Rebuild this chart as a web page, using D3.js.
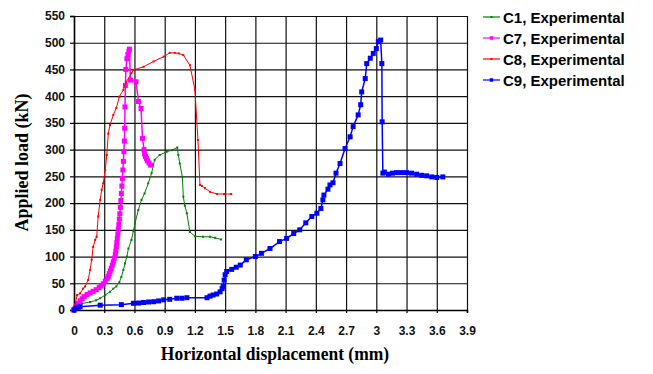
<!DOCTYPE html>
<html>
<head>
<meta charset="utf-8">
<script src="https://cdn.jsdelivr.net/npm/d3@7"></script>
<style>
  html, body { margin: 0; padding: 0; background: #fff; }
  svg { display: block; }
</style>
</head>
<body>
<svg id="chart" width="653" height="374"></svg>
<script>
// Load-displacement records (displacement in mm, load in kN)
const c1Disp = [0, 0.03, 0.08, 0.16, 0.22, 0.26, 0.31, 0.357, 0.39, 0.42, 0.45, 0.47, 0.49, 0.506, 0.525, 0.54, 0.57, 0.59, 0.605, 0.638, 0.67, 0.70, 0.737, 0.77, 0.80, 0.85, 0.92, 0.97, 1.025, 1.035, 1.05, 1.075, 1.085, 1.10, 1.12, 1.15, 1.20, 1.28, 1.35, 1.40, 1.46];
const c1Load = [0, 10, 12, 15, 18, 22, 28, 34, 40, 44, 52, 62, 75, 87, 100, 115, 131, 148, 162, 187, 206, 218, 237, 256, 281, 290, 296, 299, 304, 290, 274, 249, 212, 195, 181, 146, 138, 137, 137, 135, 132];

const c7Disp = [0, 0.01, 0.02, 0.03, 0.04, 0.06, 0.08, 0.10, 0.13, 0.16, 0.19, 0.22, 0.25, 0.27, 0.29, 0.31, 0.33, 0.34, 0.35, 0.36, 0.37, 0.38, 0.39, 0.40, 0.41, 0.415, 0.42, 0.425, 0.43, 0.435, 0.44, 0.445, 0.45, 0.455, 0.46, 0.465, 0.47, 0.475, 0.48, 0.485, 0.49, 0.495, 0.50, 0.503, 0.506, 0.51, 0.515, 0.525, 0.535, 0.545, 0.55, 0.56, 0.615, 0.64, 0.665, 0.68, 0.695, 0.70, 0.71, 0.72, 0.73, 0.745, 0.76];
const c7Load = [0, 3, 6, 9, 12, 17, 21, 25, 29, 32, 35, 38, 42, 45, 49, 54, 59, 63, 68, 73, 78, 84, 90, 97, 104, 110, 118, 126, 134, 142, 151, 160, 170, 180, 192, 205, 218, 232, 246, 262, 278, 296, 316, 340, 380, 420, 450, 470, 478, 484, 488, 430, 427, 390, 377, 321, 300, 292, 287, 283, 279, 275, 271];

const c8Disp = [0, 0.01, 0.03, 0.06, 0.09, 0.11, 0.14, 0.16, 0.175, 0.19, 0.21, 0.225, 0.24, 0.26, 0.275, 0.29, 0.31, 0.325, 0.34, 0.357, 0.39, 0.42, 0.45, 0.49, 0.52, 0.57, 0.59, 0.69, 0.79, 0.89, 0.95, 1.0, 1.04, 1.085, 1.15, 1.20, 1.23, 1.25, 1.27, 1.30, 1.35, 1.42, 1.49, 1.56];
const c8Load = [0, 8, 28, 31, 40, 44, 56, 75, 94, 118, 131, 137, 175, 206, 225, 237, 262, 290, 330, 346, 365, 378, 399, 412, 427, 443, 449, 455, 465, 474, 481, 481, 480, 477, 458, 412, 318, 234, 232, 228, 221, 217, 217, 217];

const c9Disp = [0, 0.02, 0.04, 0.06, 0.26, 0.47, 0.59, 0.64, 0.69, 0.74, 0.79, 0.84, 0.89, 0.95, 1.02, 1.07, 1.12, 1.32, 1.35, 1.38, 1.416, 1.45, 1.47, 1.48, 1.49, 1.50, 1.515, 1.565, 1.61, 1.65, 1.71, 1.80, 1.86, 1.945, 2.04, 2.11, 2.18, 2.24, 2.30, 2.36, 2.41, 2.45, 2.47, 2.48, 2.52, 2.54, 2.57, 2.60, 2.64, 2.69, 2.74, 2.77, 2.82, 2.845, 2.855, 2.89, 2.905, 2.94, 2.97, 3.00, 3.02, 3.043, 3.055, 3.058, 3.065, 3.08, 3.12, 3.16, 3.20, 3.25, 3.30, 3.35, 3.40, 3.45, 3.50, 3.55, 3.60, 3.66];
const c9Load = [0, 3, 5, 6, 9, 10, 12.5, 13, 14, 15, 15.5, 17, 19, 20, 22, 22, 23, 23, 26, 28, 30, 34, 40, 44, 56, 66, 72, 76, 80, 84, 94, 100, 106, 115, 128, 134, 143, 150, 163, 175, 181, 190, 206, 215, 226, 234, 238, 256, 274, 302, 324, 343, 365, 384, 408, 433, 461, 471, 480, 489, 502, 505, 461, 352, 256, 258, 254, 256, 257, 257, 257, 256, 254, 252, 251, 249, 248, 249];

const seriesNames = ["C1, Experimental", "C7, Experimental", "C8, Experimental", "C9, Experimental"];
const xTicks = [0, 0.3, 0.6, 0.9, 1.2, 1.5, 1.8, 2.1, 2.4, 2.7, 3, 3.3, 3.6, 3.9];
const yTicks = [0, 50, 100, 150, 200, 250, 300, 350, 400, 450, 500, 550];
const xTitle = "Horizontal displacement (mm)";
const yTitle = "Applied load (kN)";

const series = [
  { name: seriesNames[0], disp: c1Disp, load: c1Load, color: "#008000", width: 1, size: 2 },
  { name: seriesNames[1], disp: c7Disp, load: c7Load, color: "#ff00ff", width: 1.5, size: 5 },
  { name: seriesNames[2], disp: c8Disp, load: c8Load, color: "#ff0000", width: 1, size: 2 },
  { name: seriesNames[3], disp: c9Disp, load: c9Load, color: "#0000ff", width: 1.5, size: 5 }
];

const svg = d3.select("#chart");
const xScale = d3.scaleLinear().domain([0, 3.9]).range([74, 467]);
const yScale = d3.scaleLinear().domain([0, 550]).range([310, 16]);
const plotW = xScale(3.9) - xScale(0);
const plotH = yScale(0) - yScale(550);

// gridlines drawn as full-length axis ticks
const gridX = svg.append("g")
  .attr("transform", `translate(0,${yScale(0)})`)
  .call(d3.axisBottom(xScale).tickValues(xTicks).tickSize(-plotH).tickFormat(""));
const gridY = svg.append("g")
  .attr("transform", `translate(${xScale(0)},0)`)
  .call(d3.axisLeft(yScale).tickValues(yTicks).tickSize(-plotW).tickFormat(""));
[gridX, gridY].forEach(g => {
  g.select(".domain").remove();
  g.selectAll(".tick line").attr("stroke", "#111").attr("stroke-width", 1.2);
});

// axes
const xAxis = d3.axisBottom(xScale).tickValues(xTicks).tickSize(3).tickPadding(13)
  .tickFormat(d => d3.format("~g")(d));
const yAxis = d3.axisLeft(yScale).tickValues(yTicks).tickSize(4).tickPadding(5);

const gx = svg.append("g").attr("transform", `translate(0,${yScale(0)})`).call(xAxis);
const gy = svg.append("g").attr("transform", `translate(${xScale(0)},0)`).call(yAxis);
[gx, gy].forEach(g => {
  g.select(".domain").attr("stroke", "#000").attr("stroke-width", 1.5);
  g.selectAll(".tick line").attr("stroke", "#000").attr("stroke-width", 1.2);
  g.selectAll(".tick text")
    .attr("fill", "#111")
    .style("font-family", "Arial, 'Liberation Sans', sans-serif")
    .style("font-weight", "bold")
    .style("font-size", "12px");
});

// axis titles
svg.append("text")
  .attr("transform", "translate(275,360) scale(1,1.08)")
  .attr("text-anchor", "middle")
  .style("font-family", "'Times New Roman', 'Liberation Serif', serif")
  .style("font-weight", "bold")
  .style("font-size", "17.5px")
  .text(xTitle);
svg.append("text")
  .attr("transform", "translate(28,162.5) rotate(-90)")
  .attr("text-anchor", "middle")
  .style("font-family", "'Times New Roman', 'Liberation Serif', serif")
  .style("font-weight", "bold")
  .style("font-size", "18px")
  .text(yTitle);

// curves
const lineGen = d3.line().x(d => xScale(d[0])).y(d => yScale(d[1]));
series.forEach(s => {
  const pts = s.disp.map((d, i) => [d, s.load[i]]);
  const g = svg.append("g");
  g.append("path")
    .attr("d", lineGen(pts))
    .attr("fill", "none")
    .attr("stroke", s.color)
    .attr("stroke-width", s.width)
    .attr("stroke-linejoin", "round");
  g.selectAll("rect").data(pts).join("rect")
    .attr("x", d => xScale(d[0]) - s.size / 2)
    .attr("y", d => yScale(d[1]) - s.size / 2)
    .attr("width", s.size).attr("height", s.size)
    .attr("fill", s.color);
});

// legend
const legend = svg.append("g");
series.forEach((s, i) => {
  const cy = 17 + i * 21;
  legend.append("line")
    .attr("x1", 483).attr("x2", 500).attr("y1", cy).attr("y2", cy)
    .attr("stroke", s.color).attr("stroke-width", 1.2);
  const m = s.size > 2 ? 3.5 : 2;
  legend.append("rect")
    .attr("x", 491.5 - m / 2).attr("y", cy - m / 2)
    .attr("width", m).attr("height", m)
    .attr("fill", s.color);
  legend.append("text")
    .attr("x", 503).attr("y", cy + 5.5)
    .style("font-family", "Arial, 'Liberation Sans', sans-serif")
    .style("font-weight", "bold")
    .style("font-size", "15px")
    .attr("fill", "#000")
    .text(s.name);
});
</script>
</body>
</html>
